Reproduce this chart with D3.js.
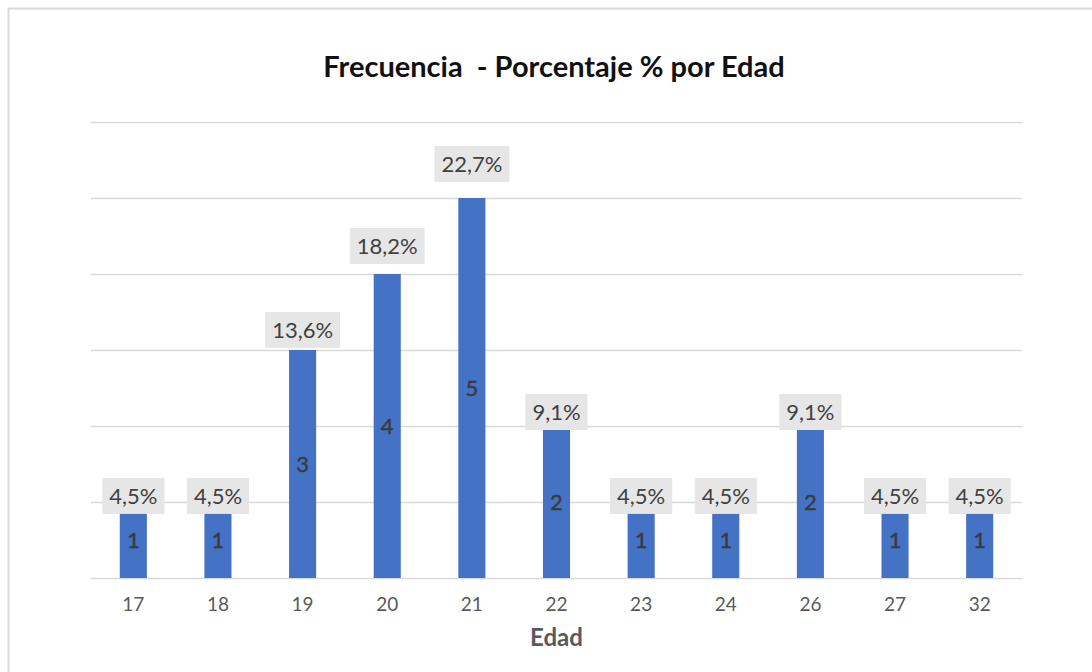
<!DOCTYPE html>
<html><head><meta charset="utf-8">
<script src="https://cdn.jsdelivr.net/npm/d3@7"></script>
<style>html,body{margin:0;padding:0;background:#fff;}</style>
</head><body>
<svg id="c" width="1092" height="672"></svg>
<script>
const ages = ["17","18","19","20","21","22","23","24","26","27","32"];
const counts = [1,1,3,4,5,2,1,1,2,1,1];
const percents = [4.5,4.5,13.6,18.2,22.7,9.1,4.5,4.5,9.1,4.5,4.5];
const countTicks = [0,1,2,3,4,5,6];
const pctDomain = [0,25];
const title = "Frecuencia  - Porcentaje % por Edad";
const xTitle = "Edad";

const FONT = "Lato, 'Open Sans', sans-serif";
const svg = d3.select("#c");
const m = {left:91, right:1022, top:122, bottom:578};

// outer frame
svg.append("rect").attr("x",8.5).attr("y",8.5).attr("width",1200).attr("height",800)
  .attr("fill","none").attr("stroke","#d9d9d9").attr("stroke-width",2);

const x = d3.scaleBand().domain(ages).range([m.left,m.right]).paddingInner(0.68).paddingOuter(0.34);
const y = d3.scaleLinear().domain([0,6]).range([m.bottom,m.top]);
const yPct = d3.scaleLinear().domain(pctDomain).range([m.bottom,m.top]);

// gridlines
const grid = svg.append("g").call(d3.axisLeft(y).tickValues(countTicks).tickSize(-(m.right-m.left)).tickFormat(""))
  .attr("transform",`translate(${m.left},0)`);
grid.select(".domain").remove();
grid.selectAll("line").attr("stroke","#d9d9d9").attr("stroke-width",1.5);

// bars
svg.append("g").selectAll("rect").data(ages).join("rect")
  .attr("x",d=>x(d)).attr("width",x.bandwidth())
  .attr("y",(d,i)=>y(counts[i])).attr("height",(d,i)=>y(0)-y(counts[i]))
  .attr("fill","#4472c4");

// inside count labels
svg.append("g").selectAll("text").data(ages).join("text")
  .attr("x",d=>x(d)+x.bandwidth()/2)
  .attr("y",(d,i)=>(y(0)+y(counts[i]))/2)
  .attr("dy","0.35em").attr("text-anchor","middle")
  .attr("font-family",FONT).attr("font-size",22).attr("fill","#3a3a3a")
  .attr("stroke","#3a3a3a").attr("stroke-width",0.4)
  .text((d,i)=>counts[i]);

// percent labels (on secondary scale)
const fmt = p => p.toFixed(1).replace(".",",") + "%";
const lab = svg.append("g").selectAll("g").data(ages).join("g")
  .attr("transform",(d,i)=>`translate(${x(d)+x.bandwidth()/2},${yPct(percents[i])})`);
lab.append("text").attr("text-anchor","middle").attr("dy","0.35em")
  .attr("font-family",FONT).attr("font-size",22).attr("fill","#404040")
  .text((d,i)=>fmt(percents[i]));
lab.each(function(){
  const g = d3.select(this);
  const bb = g.select("text").node().getBBox();
  g.insert("rect","text").attr("x",bb.x-7).attr("y",-18).attr("width",bb.width+14).attr("height",36)
    .attr("fill","#e7e6e6");
});

// x axis labels
const xa = svg.append("g").attr("transform",`translate(0,${m.bottom})`)
  .call(d3.axisBottom(x).tickSize(0).tickPadding(20));
xa.select(".domain").remove();
xa.selectAll("text").attr("font-family",FONT).attr("font-size",19).attr("fill","#595959");

// titles
svg.append("text").attr("x",554).attr("y",77).attr("text-anchor","middle")
  .style("white-space","pre")
  .attr("font-family",FONT).attr("font-weight","bold").attr("font-size",29).attr("fill","#111")
  .text(title);
svg.append("text").attr("x",(m.left+m.right)/2).attr("y",646).attr("text-anchor","middle")
  .attr("font-family",FONT).attr("font-weight","bold").attr("font-size",24).attr("fill","#595959")
  .text(xTitle);
</script>
</body></html>
